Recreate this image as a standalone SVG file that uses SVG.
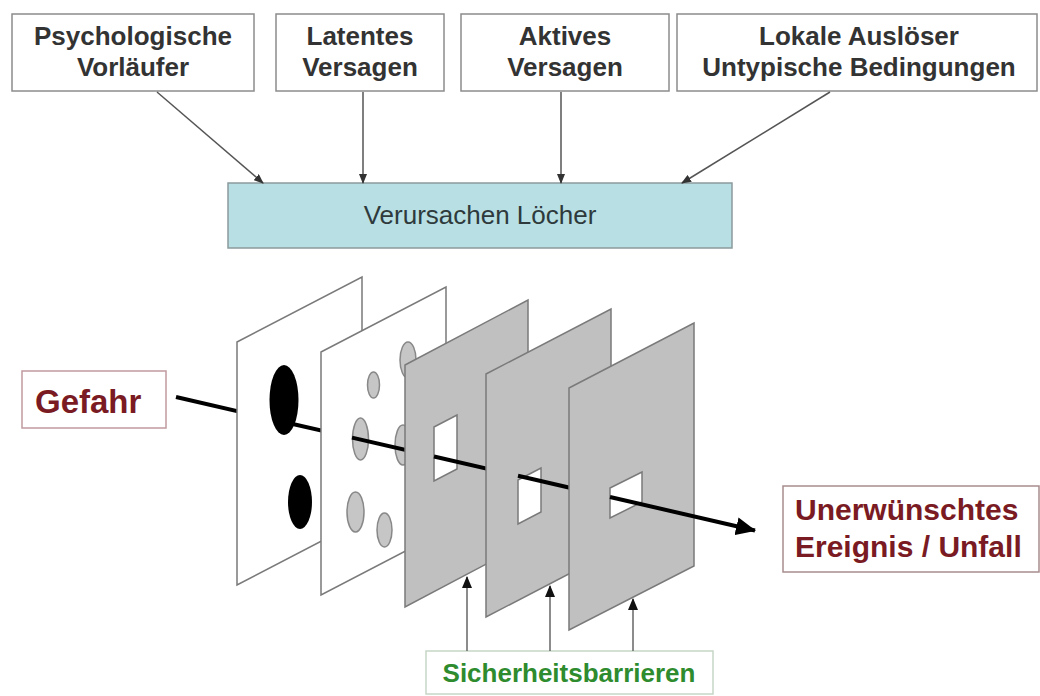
<svg xmlns="http://www.w3.org/2000/svg" width="1040" height="696" viewBox="0 0 1040 696">
<defs>
<style>
.box{fill:#fff;stroke:#8c8c8c;stroke-width:1.5}
.t{font-family:"Liberation Sans",Arial,sans-serif;font-weight:bold;font-size:26px;fill:#333;text-anchor:middle}
.blue{fill:#b8dfe3;stroke:#8a9a9c;stroke-width:1.5}
.conn{stroke:#555;stroke-width:1.5;fill:none;marker-end:url(#sa)}
.up{stroke:#666;stroke-width:1.5;fill:none;marker-end:url(#ua)}
.plw{fill:#fff;stroke:#7a7a7a;stroke-width:1.5}
.plg{fill:#c0c0c0;stroke:#7a7a7a;stroke-width:1.5}
.win{fill:#fff;stroke:#7a7a7a;stroke-width:1.5}
.gh{fill:#c6c6c6;stroke:#888;stroke-width:1.5}
.ray{stroke:#000;stroke-width:4;fill:none}
.red{font-family:"Liberation Sans",Arial,sans-serif;font-weight:bold;fill:#7a1a22}
</style>
<marker id="sa" markerUnits="userSpaceOnUse" markerWidth="10" markerHeight="8" refX="9" refY="4" orient="auto"><path d="M0,0 L10,4 L0,8 Z" fill="#333"/></marker>
<marker id="ua" markerUnits="userSpaceOnUse" markerWidth="12" markerHeight="10" refX="11" refY="5" orient="auto"><path d="M0,0 L12,5 L0,10 Z" fill="#111"/></marker>
<marker id="ma" markerUnits="userSpaceOnUse" markerWidth="20" markerHeight="18" refX="19" refY="9" orient="auto"><path d="M0,0 L20,9 L0,18 Z" fill="#000"/></marker>
</defs>
<rect width="1040" height="696" fill="#fff"/>

<g id="n-psych"><rect class="box" x="12" y="14" width="242" height="77"/><text class="t" x="133" y="45">Psychologische</text><text class="t" x="133" y="76">Vorläufer</text></g>
<g id="n-latent"><rect class="box" x="276" y="14" width="168" height="77"/><text class="t" x="360" y="45">Latentes</text><text class="t" x="360" y="76">Versagen</text></g>
<g id="n-aktiv"><rect class="box" x="461" y="14" width="208" height="77"/><text class="t" x="565" y="45">Aktives</text><text class="t" x="565" y="76">Versagen</text></g>
<g id="n-lokal"><rect class="box" x="677" y="14" width="360" height="77"/><text class="t" x="859" y="45">Lokale Auslöser</text><text class="t" x="859" y="76">Untypische Bedingungen</text></g>
<g id="n-loecher"><rect class="blue" x="228" y="183" width="504" height="65"/><text x="480" y="224" font-family="Liberation Sans, Arial, sans-serif" font-size="26" fill="#2e3a3c" text-anchor="middle">Verursachen Löcher</text></g>

<g id="n-gefahr"><rect x="22" y="371" width="144" height="57" fill="#fff" stroke="#c09a9e" stroke-width="1.5"/><text class="red" x="35" y="413" font-size="33">Gefahr</text></g>
<g id="n-unfall"><rect x="783" y="486" width="256" height="86" fill="#fff" stroke="#a88c8e" stroke-width="1.5"/><text class="red" x="795" y="520" font-size="30">Unerwünschtes</text><text class="red" x="795" y="557" font-size="30">Ereignis / Unfall</text></g>
<g id="n-sicher"><rect x="426" y="651" width="287" height="43" fill="#fff" stroke="#c6d6c6" stroke-width="1.5"/><text x="569" y="682" font-family="Liberation Sans, Arial, sans-serif" font-weight="bold" font-size="26" fill="#2e8b2e" text-anchor="middle">Sicherheitsbarrieren</text></g>

<g id="slices">
<path class="ray" d="M176,397 L284,422"/>
<g id="slice1"><path class="plw" d="M237,342 L362,277 L362,520 L237,585 Z"/><ellipse cx="284" cy="400" rx="14.5" ry="35" fill="#000"/><ellipse cx="300" cy="502" rx="12" ry="27" fill="#000"/></g>
<path class="ray" d="M284,422 L360,439.4"/>
<g id="slice2"><path class="plw" d="M321,352 L446,287 L446,530 L321,595 Z"/>
<ellipse class="gh" cx="408" cy="360" rx="8" ry="18"/><ellipse class="gh" cx="373.5" cy="385" rx="6" ry="13"/><ellipse class="gh" cx="360.5" cy="439" rx="8" ry="21"/><ellipse class="gh" cx="403" cy="445" rx="8" ry="20"/><ellipse class="gh" cx="355.5" cy="512" rx="8.5" ry="20"/><ellipse class="gh" cx="384.5" cy="530" rx="7.5" ry="17"/></g>
<path class="ray" d="M352,437.6 L445,459"/>
<g id="slice3"><path class="plg" d="M405,365 L528,300 L528,542 L405,607 Z"/><path class="win" d="M434,427 L457,415 L457,469 L434,481 Z"/></g>
<path class="ray" d="M434,456.5 L530,478.6"/>
<g id="slice4"><path class="plg" d="M486,374 L611,309 L611,552 L486,617 Z"/><path class="win" d="M518,480 L541,468 L541,512 L518,524 Z"/></g>
<path class="ray" d="M518,475.8 L626,500.7"/>
<g id="slice5"><path class="plg" d="M569,388 L694,323 L694,566 L569,630 Z"/><path class="win" d="M610,488 L642,472 L642,502 L610,518 Z"/></g>
<path class="ray" d="M610,497 L755,530.5" style="marker-end:url(#ma)"/>
</g>

<g id="connectors">
<path class="conn" d="M157,92 L263,183"/>
<path class="conn" d="M363,92 L363,183"/>
<path class="conn" d="M561,92 L561,183"/>
<path class="conn" d="M830,92 L682,183"/>
<path class="up" d="M467,651 L467,577"/>
<path class="up" d="M550,651 L550,586"/>
<path class="up" d="M633,651 L633,599"/>
</g>
</svg>
